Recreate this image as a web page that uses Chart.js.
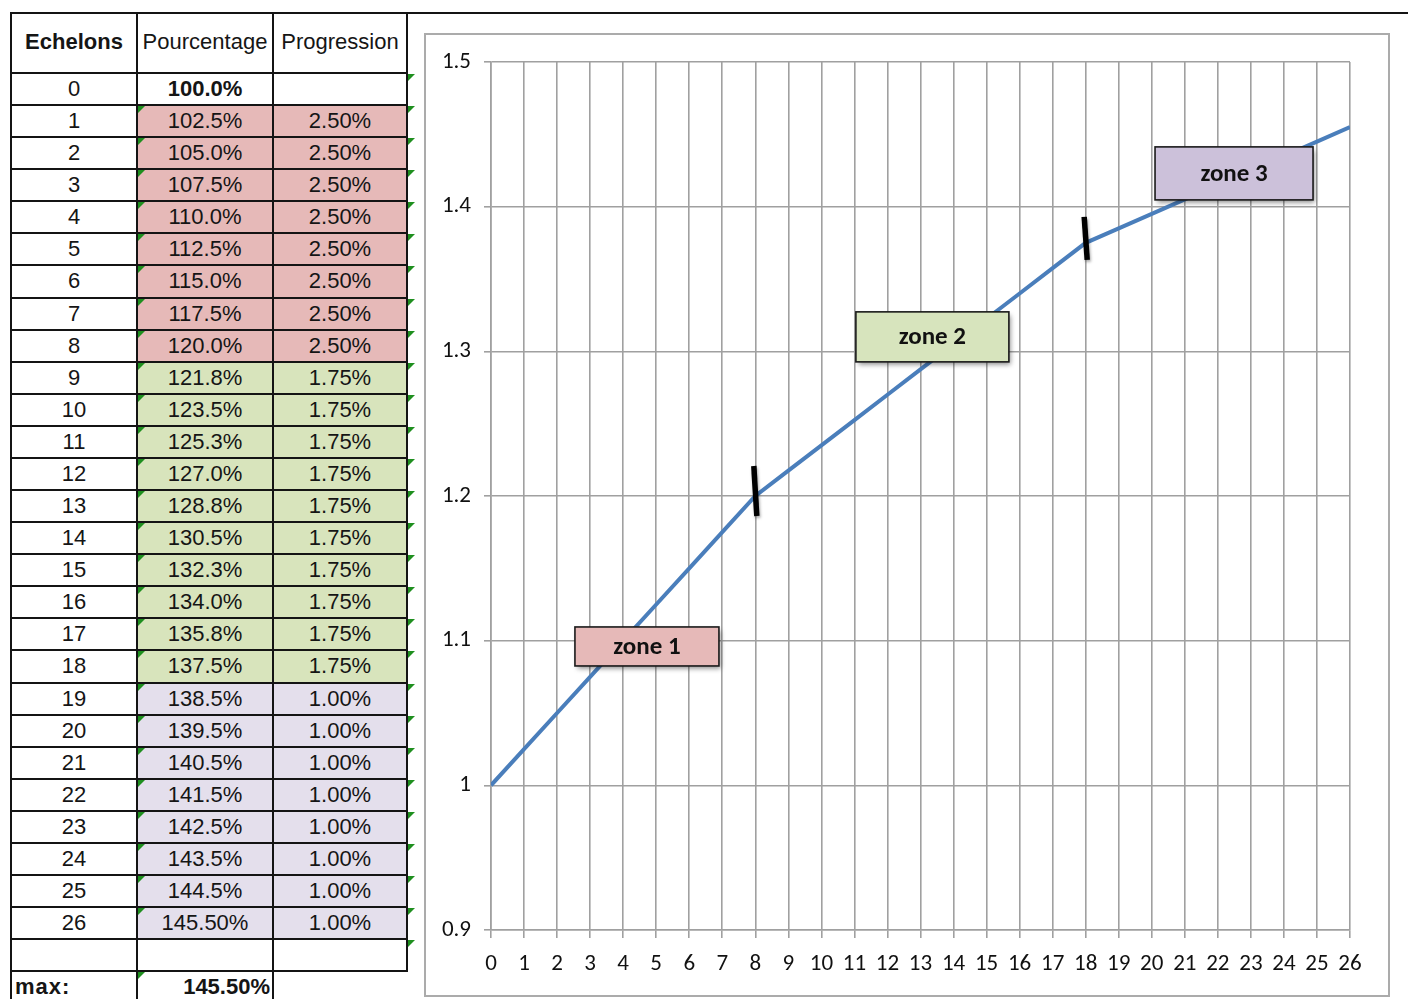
<!DOCTYPE html>
<html>
<head>
<meta charset="utf-8">
<script src="https://cdn.jsdelivr.net/npm/chart.js@4.4.1/dist/chart.umd.min.js"></script>
<style>
  html, body { margin: 0; padding: 0; background: #ffffff; }
  body { width: 1408px; height: 999px; position: relative; overflow: hidden; font-family: "Liberation Sans", Arial, sans-serif; }
  .cell { position: absolute; font-size: 22px; color: #151515; text-align: center; white-space: nowrap; box-sizing: border-box; }
  .hline, .vline { position: absolute; background: #141414; }
  .tri { position: absolute; width: 0; height: 0; border-top: 7px solid #1f8f1f; border-right: 7px solid transparent; }
  #frame { position: absolute; left: 424px; top: 33px; width: 962px; height: 960px; border: 2px solid #ababab; background: #fff; }
  #frame canvas { position: absolute; left: 0; top: 0; }
</style>
</head>
<body>
<div class="hline" style="left:10px; top:12px; width:1398px; height:2px;"></div>
<div id="table"></div>
<div id="frame"><canvas id="c" width="962" height="960"></canvas></div>
<script>
// ---------------- DATA ----------------
const echelons = [0, 1, 2, 3, 4, 5, 6, 7, 8, 9, 10, 11, 12, 13, 14, 15, 16, 17, 18, 19, 20, 21, 22, 23, 24, 25, 26];
const values = [1.000, 1.025, 1.050, 1.075, 1.100, 1.125, 1.150, 1.175, 1.200,
                1.2175, 1.235, 1.2525, 1.270, 1.2875, 1.305, 1.3225, 1.340, 1.3575, 1.375,
                1.385, 1.395, 1.405, 1.415, 1.425, 1.435, 1.445, 1.455];
const pourcentageLabels = ['100.0%', '102.5%', '105.0%', '107.5%', '110.0%', '112.5%', '115.0%', '117.5%', '120.0%',
                           '121.8%', '123.5%', '125.3%', '127.0%', '128.8%', '130.5%', '132.3%', '134.0%', '135.8%', '137.5%',
                           '138.5%', '139.5%', '140.5%', '141.5%', '142.5%', '143.5%', '144.5%', '145.50%'];
const progressionLabels = ['', '2.50%', '2.50%', '2.50%', '2.50%', '2.50%', '2.50%', '2.50%', '2.50%',
                           '1.75%', '1.75%', '1.75%', '1.75%', '1.75%', '1.75%', '1.75%', '1.75%', '1.75%', '1.75%',
                           '1.00%', '1.00%', '1.00%', '1.00%', '1.00%', '1.00%', '1.00%', '1.00%'];
const rowZone = [0, 1, 1, 1, 1, 1, 1, 1, 1, 2, 2, 2, 2, 2, 2, 2, 2, 2, 2, 3, 3, 3, 3, 3, 3, 3, 3];
const headers = ['Echelons', 'Pourcentage', 'Progression'];
const maxLabel = 'max:';
const maxValue = '145.50%';
const zoneNames = ['zone 1', 'zone 2', 'zone 3'];
const zoneBoundaries = [8, 18];
const yTicks = [0.9, 1.0, 1.1, 1.2, 1.3, 1.4, 1.5];

// ---------------- TABLE (HTML) ----------------
const zoneFill = { 0: '#ffffff', 1: '#e6b9b8', 2: '#d8e4bc', 3: '#e4dfec' };
const colX = [11, 137, 273, 407];
const headTop = 13, headBottom = 73, rowH = 32.08;
const tbl = document.getElementById('table');
function add(html) { tbl.insertAdjacentHTML('beforeend', html); }
function rowTop(i) { return headBottom + rowH * i; }

headers.forEach((h, c) => {
  add(`<div class="cell" style="left:${colX[c]}px;top:${headTop}px;width:${colX[c+1]-colX[c]}px;height:${headBottom-headTop-2}px;line-height:${headBottom-headTop-2}px;${c===0?'font-weight:bold;':''}">${h}</div>`);
});
echelons.forEach((e, i) => {
  const t = rowTop(i);
  const fill = zoneFill[rowZone[i]];
  add(`<div class="cell" style="left:${colX[0]}px;top:${t}px;width:${colX[1]-colX[0]}px;height:${rowH}px;line-height:${rowH}px;">${e}</div>`);
  add(`<div class="cell" style="left:${colX[1]}px;top:${t}px;width:${colX[2]-colX[1]}px;height:${rowH}px;line-height:${rowH}px;background:${fill};${i===0?'font-weight:bold;':''}">${pourcentageLabels[i]}</div>`);
  add(`<div class="cell" style="left:${colX[2]}px;top:${t}px;width:${colX[3]-colX[2]}px;height:${rowH}px;line-height:${rowH}px;background:${fill};">${progressionLabels[i]}</div>`);
  if (i > 0) add(`<div class="tri" style="left:${colX[1]+1}px;top:${t+1}px;"></div>`);
  add(`<div class="tri" style="left:${colX[3]+1}px;top:${t+1}px;"></div>`);
});
add(`<div class="tri" style="left:${colX[3]+1}px;top:${rowTop(27)+1}px;"></div>`);
const mt = rowTop(28);
add(`<div class="cell" style="left:${colX[0]+4}px;top:${mt}px;width:${colX[1]-colX[0]-4}px;height:${rowH}px;line-height:${rowH}px;text-align:left;font-weight:bold;letter-spacing:1px;">${maxLabel}</div>`);
add(`<div class="cell" style="left:${colX[1]}px;top:${mt}px;width:${colX[2]-colX[1]-3}px;height:${rowH}px;line-height:${rowH}px;text-align:right;font-weight:bold;">${maxValue}</div>`);
add(`<div class="tri" style="left:${colX[1]+1}px;top:${mt+1}px;"></div>`);
add(`<div class="hline" style="left:${colX[0]-1}px;top:${headBottom-1}px;width:${colX[3]-colX[0]+2}px;height:2px;"></div>`);
for (let k = 1; k <= 28; k++) {
  add(`<div class="hline" style="left:${colX[0]-1}px;top:${rowTop(k)-1}px;width:${colX[3]-colX[0]+2}px;height:2px;"></div>`);
}
[colX[0], colX[1], colX[2]].forEach(x => add(`<div class="vline" style="left:${x-1}px;top:${headTop}px;width:2px;height:${999-headTop}px;"></div>`));
add(`<div class="vline" style="left:${colX[3]-1}px;top:${headTop}px;width:2px;height:${rowTop(28)-headTop+1}px;"></div>`);

// ---------------- CHART ----------------
const gridColor = '#a0a0a0';
const tickFont = { family: "Carlito, Lato, 'Open Sans', sans-serif", size: 23 };

const zonePlugin = {
  id: 'zones',
  afterDatasetsDraw(chart, args, opts) {
    const { ctx, scales: { x, y } } = chart;
    zoneBoundaries.forEach((b, k) => {
      const m = opts.marks[k];
      const px = x.getPixelForValue(echelons[b]);
      const py = y.getPixelForValue(values[b]);
      ctx.save();
      ctx.shadowColor = 'rgba(0,0,0,0.35)';
      ctx.shadowBlur = 3; ctx.shadowOffsetX = 1; ctx.shadowOffsetY = 2;
      ctx.strokeStyle = '#000'; ctx.lineWidth = 5.5; ctx.lineCap = 'butt';
      ctx.beginPath();
      ctx.moveTo(px - m.tilt, py - m.up);
      ctx.lineTo(px + m.tilt, py + m.down);
      ctx.stroke();
      ctx.restore();
    });
    opts.boxes.forEach((bx, k) => {
      const cx = x.getPixelForValue(bx.x);
      const cy = y.getPixelForValue(bx.y);
      const l = cx - bx.w / 2, t = cy - bx.h / 2;
      ctx.save();
      ctx.shadowColor = 'rgba(0,0,0,0.45)';
      ctx.shadowBlur = 5; ctx.shadowOffsetX = 2; ctx.shadowOffsetY = 3;
      ctx.fillStyle = bx.fill;
      ctx.fillRect(l, t, bx.w, bx.h);
      ctx.restore();
      ctx.save();
      ctx.strokeStyle = '#1a1a1a'; ctx.lineWidth = 1.6;
      ctx.strokeRect(l, t, bx.w, bx.h);
      ctx.fillStyle = '#111';
      ctx.font = "bold 25px Carlito, Lato, 'Open Sans', sans-serif";
      ctx.textAlign = 'center'; ctx.textBaseline = 'middle';
      ctx.fillText(zoneNames[k], cx, cy + 1);
      ctx.restore();
    });
  }
};

new Chart(document.getElementById('c'), {
  type: 'line',
  data: {
    datasets: [{
      data: echelons.map((e, i) => ({ x: e, y: values[i] })),
      borderColor: '#4a7ebb',
      borderWidth: 4,
      pointRadius: 0,
      tension: 0,
      fill: false
    }]
  },
  options: {
    responsive: false,
    animation: false,
    layout: { padding: { top: 27, right: 38, left: 0, bottom: 0 } },
    plugins: {
      legend: { display: false },
      tooltip: { enabled: false },
      zones: {
        marks: [ { up: 30, down: 20, tilt: 1.5 }, { up: 26, down: 17, tilt: 1.5 } ],
        boxes: [
          { x: 4.72, y: 1.096, w: 144, h: 39, fill: '#e6b9b8' },
          { x: 13.36, y: 1.310, w: 153, h: 50, fill: '#d7e4bd' },
          { x: 22.49, y: 1.423, w: 158, h: 53, fill: '#ccc1da' }
        ]
      }
    },
    scales: {
      x: {
        type: 'linear',
        min: echelons[0], max: echelons[echelons.length - 1],
        afterFit: s => { s.height = 65; },
        afterBuildTicks: s => { s.ticks = echelons.map(v => ({ value: v })); },
        ticks: { font: tickFont, color: '#111', padding: 12, maxRotation: 0, autoSkip: false,
                 callback: v => String(v) },
        grid: { color: gridColor, lineWidth: 1.6, tickLength: 8, tickColor: gridColor },
        border: { color: gridColor, width: 1.6 }
      },
      y: {
        type: 'linear',
        min: 0.9, max: 1.5,
        afterFit: s => { s.width = 65; },
        afterBuildTicks: s => { s.ticks = yTicks.map(v => ({ value: v })); },
        ticks: { font: tickFont, color: '#111', padding: 13,
                 callback: v => String(Math.round(v * 10) / 10) },
        grid: { color: gridColor, lineWidth: 1.6, tickLength: 7, tickColor: gridColor },
        border: { color: gridColor, width: 1.6 }
      }
    }
  },
  plugins: [zonePlugin]
});
</script>
</body>
</html>
